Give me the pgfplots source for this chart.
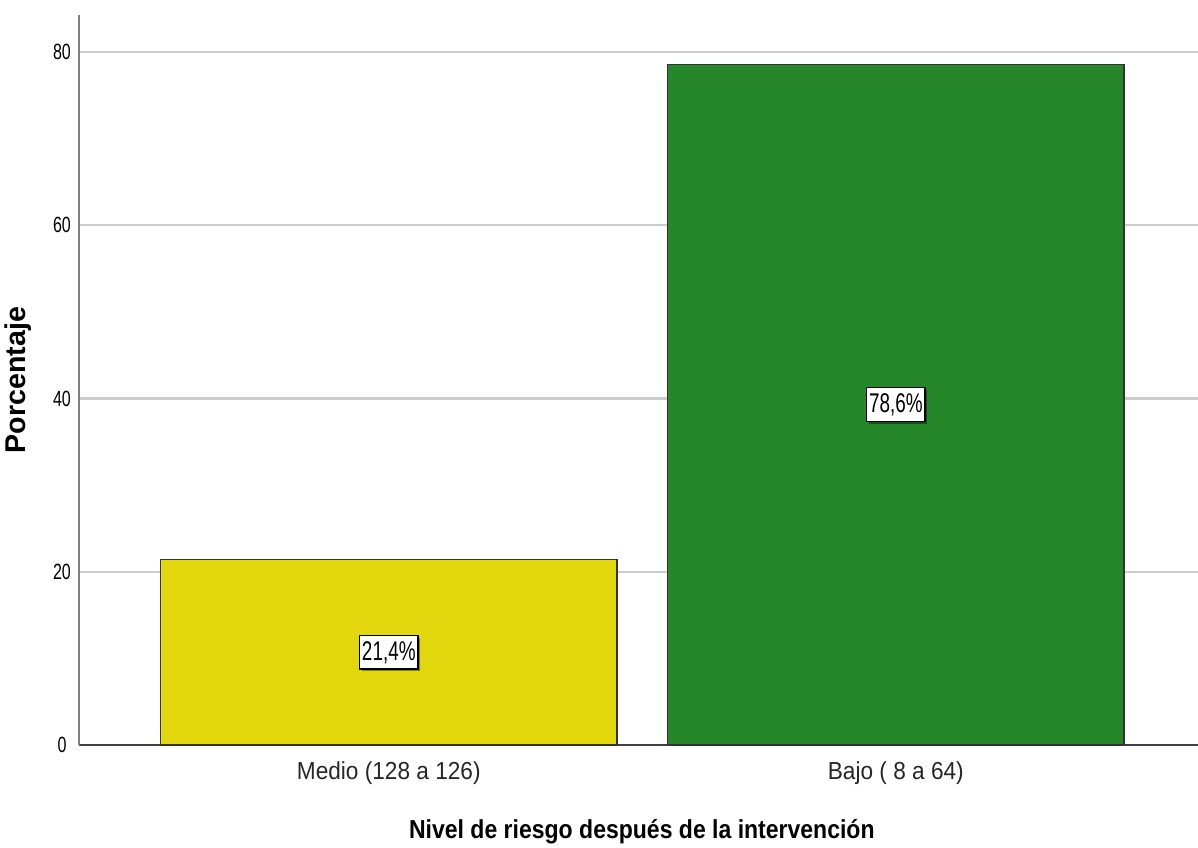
\documentclass[border=0pt]{standalone}
\usepackage{pgfplots}
\pgfplotsset{compat=1.18}
\usepackage{fontspec}
\setmainfont{Liberation Sans}
\newfontfamily\condfont{Liberation Sans}[FakeStretch=0.73]
\newfontfamily\barfont{Liberation Sans}[FakeStretch=0.7]
\newfontfamily\labfont{Liberation Sans}[FakeStretch=0.885]
\newfontfamily\tickfont{Liberation Sans}[FakeStretch=0.92]
\usetikzlibrary{shadows}
\definecolor{barY}{RGB}{225,215,12}
\definecolor{barG}{RGB}{38,134,42}
\begin{document}
\begin{tikzpicture}
\begin{axis}[
 scale only axis, width=559.5pt, height=365pt,
 xmin=-0.611, xmax=1.596, ymin=0, ymax=84.27,
 axis lines=left, axis line style={-},
 x axis line style={draw=black!75, line width=0.9pt},
 y axis line style={draw=black!50, line width=0.9pt},
 xtick={0,1}, xticklabels={Medio (128 a 126), Bajo ( 8 a 64)},
 ytick={0,20,40,60,80}, yticklabels={0,20,40,60,80},
 major tick length=0pt,
 xticklabel style={anchor=center, yshift=-14pt, font=\tickfont\fontsize{12.3}{14}\selectfont, text=black!85},
 yticklabel style={anchor=center, xshift=-8.5pt, font=\condfont\fontsize{11}{13}\selectfont},
 ymajorgrids, major grid style={draw=black!20, line width=1.1pt},
 xlabel={Nivel de riesgo después de la intervención},
 xlabel style={at={(axis description cs:0.503,-0.119)}, anchor=center, font=\labfont\bfseries\fontsize{13}{15}\selectfont},
 ylabel={Porcentaje},
 ylabel style={at={(axis description cs:-0.0545,0.5)}, anchor=center, font=\bfseries\fontsize{14.3}{16}\selectfont},
 clip=false,
]
\addplot[ybar, bar width=0.9, bar shift=0pt, draw=black!80, line width=0.6pt, fill=barY] coordinates {(0,21.4)};
\addplot[ybar, bar width=0.9, bar shift=0pt, draw=black!80, line width=0.6pt, fill=barG] coordinates {(1,78.6)};
\addplot[only marks, mark=*, mark size=0pt, draw=none, point meta=explicit symbolic, nodes near coords,
  every node near coord/.style={anchor=center, font=\barfont\fontsize{13.5}{15}\selectfont, draw=black, fill=white,
  inner xsep=1.2pt, inner ysep=2.8pt, line width=0.6pt,
  drop shadow={shadow xshift=1.2pt, shadow yshift=-1.2pt, fill=black, opacity=0.4}}]
  coordinates {(0,10.7)[21,4\%] (1,39.3)[78,6\%]};
\end{axis}
\pgfresetboundingbox
\path[use as bounding box] (-39.5pt,-51pt) rectangle (559.5pt,372.5pt);
\end{tikzpicture}
\end{document}
